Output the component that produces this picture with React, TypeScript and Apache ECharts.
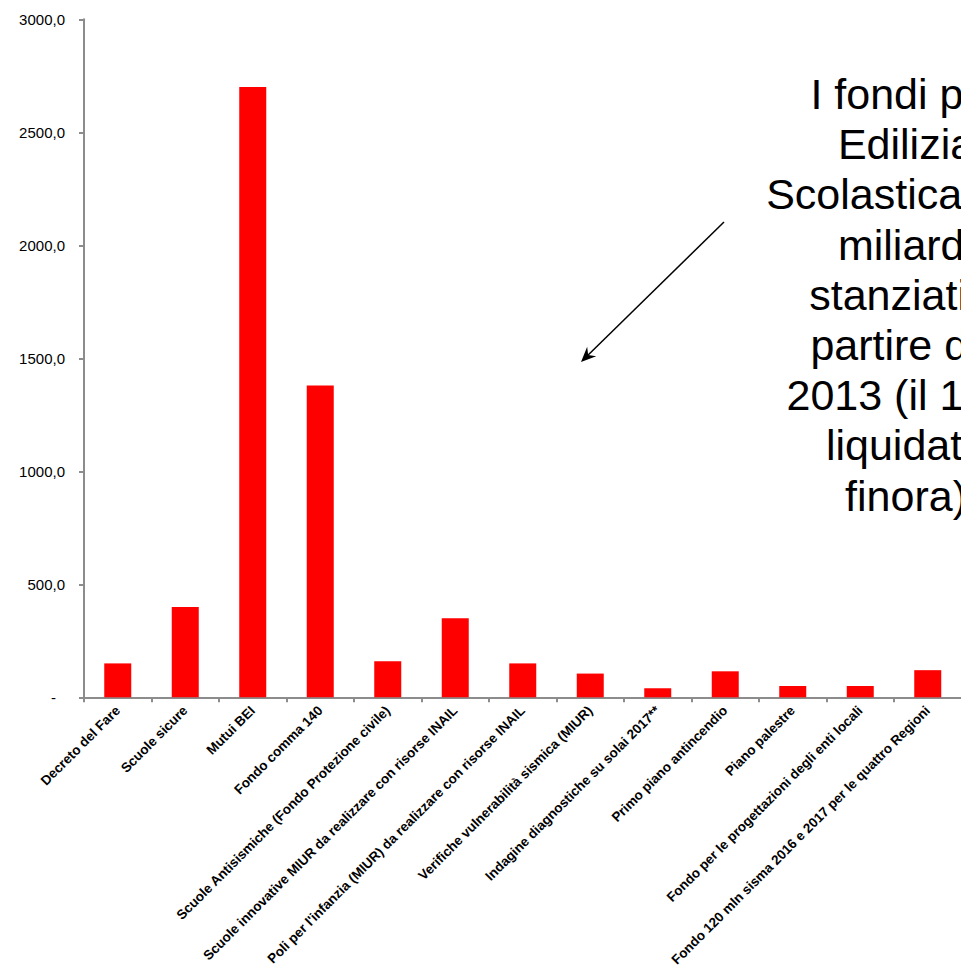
import React, { useEffect, useRef } from "react";
import * as echarts from "echarts";

const categories = [
  "Decreto del Fare",
  "Scuole sicure",
  "Mutui BEI",
  "Fondo comma 140",
  "Scuole Antisismiche (Fondo Protezione civile)",
  "Scuole innovative MIUR da realizzare con risorse INAIL",
  "Poli per l'infanzia (MIUR) da realizzare con risorse INAIL",
  "Verifiche vulnerabilità sismica (MIUR)",
  "Indagine diagnostiche su solai 2017**",
  "Primo piano antincendio",
  "Piano palestre",
  "Fondo per le progettazioni degli enti locali",
  "Fondo 120 mln sisma 2016 e 2017 per le quattro Regioni",
];

const values = [150, 400, 2700, 1380, 160, 350, 150, 105, 40, 115, 50, 50, 120];

const yMin = 0;
const yMax = 3000;
const yInterval = 500;

const noteLines = [
  "I fondi per",
  "Edilizia",
  "Scolastica: 9,5",
  "miliardi",
  "stanziati a",
  "partire dal",
  "2013 (il 10%",
  "liquidato",
  "finora)",
];

const FONT = "'Liberation Sans', Arial, sans-serif";

export default function App() {
  const ref = useRef<HTMLDivElement>(null);

  useEffect(() => {
    if (!ref.current) return;
    document.body.style.overflow = "hidden";
    const chart = echarts.init(ref.current, null, { renderer: "svg" });

    const axisGrey = "#8c8c8c";

    // arrow geometry
    const x1 = 724, y1 = 222, x2 = 581, y2 = 362;
    const len = Math.hypot(x2 - x1, y2 - y1);
    const dx = (x2 - x1) / len, dy = (y2 - y1) / len;
    const hl = 15, hw = 6.5, notch = 10;
    const bx = x2 - dx * hl, by = y2 - dy * hl;
    const nx = x2 - dx * notch, ny = y2 - dy * notch;
    const px = -dy, py = dx;

    chart.setOption({
      animation: false,
      textStyle: { fontFamily: FONT },
      grid: {
        left: 84,
        right: -0.5,
        top: 19.3,
        bottom: 268.7,
        containLabel: false,
        outerBoundsMode: "none",
      },
      xAxis: {
        type: "category",
        data: categories,
        axisLine: { lineStyle: { color: axisGrey, width: 2 } },
        axisTick: { show: true, length: 5, lineStyle: { color: axisGrey, width: 2 } },
        axisLabel: {
          interval: 0,
          rotate: 45,
          margin: 11,
          color: "#000",
          fontSize: 13.5,
          fontWeight: "bold",
          fontFamily: FONT,
        },
      },
      yAxis: {
        type: "value",
        min: yMin,
        max: yMax,
        interval: yInterval,
        splitLine: { show: false },
        axisLine: { show: true, lineStyle: { color: axisGrey, width: 2 } },
        axisTick: { show: true, length: 5, lineStyle: { color: axisGrey, width: 2 } },
        axisLabel: {
          margin: 19,
          color: "#000",
          fontSize: 15,
          fontFamily: FONT,
          formatter: (v: number) =>
            v === 0 ? "{z|-}" : v.toFixed(1).replace(".", ","),
          rich: { z: { padding: [0, 9, 0, 0], fontSize: 15, color: "#000", fontFamily: FONT } },
        },
      },
      series: [
        {
          type: "bar",
          data: values,
          barWidth: "40%",
          itemStyle: { color: "#ff0000" },
        },
      ],
      graphic: [
        ...noteLines.map((t, i) => ({
          type: "text",
          x: 906,
          y: 94 + i * 50.2,
          z: 10,
          style: {
            text: t,
            fill: "#000",
            font: `43px ${FONT}`,
            textAlign: "center",
            textVerticalAlign: "middle",
          },
        })),
        {
          type: "line",
          shape: { x1, y1, x2: nx, y2: ny },
          style: { stroke: "#000", lineWidth: 1.5 },
        },
        {
          type: "polygon",
          shape: {
            points: [
              [x2, y2],
              [bx + px * hw, by + py * hw],
              [nx, ny],
              [bx - px * hw, by - py * hw],
            ],
          },
          style: { fill: "#000" },
        },
      ],
    });

    return () => chart.dispose();
  }, []);

  return (
    <div
      style={{
        position: "absolute",
        left: 0,
        top: 0,
        width: 961,
        height: 966,
        overflow: "hidden",
        background: "#fff",
      }}
    >
      <div ref={ref} style={{ width: 961, height: 966 }} />
    </div>
  );
}
